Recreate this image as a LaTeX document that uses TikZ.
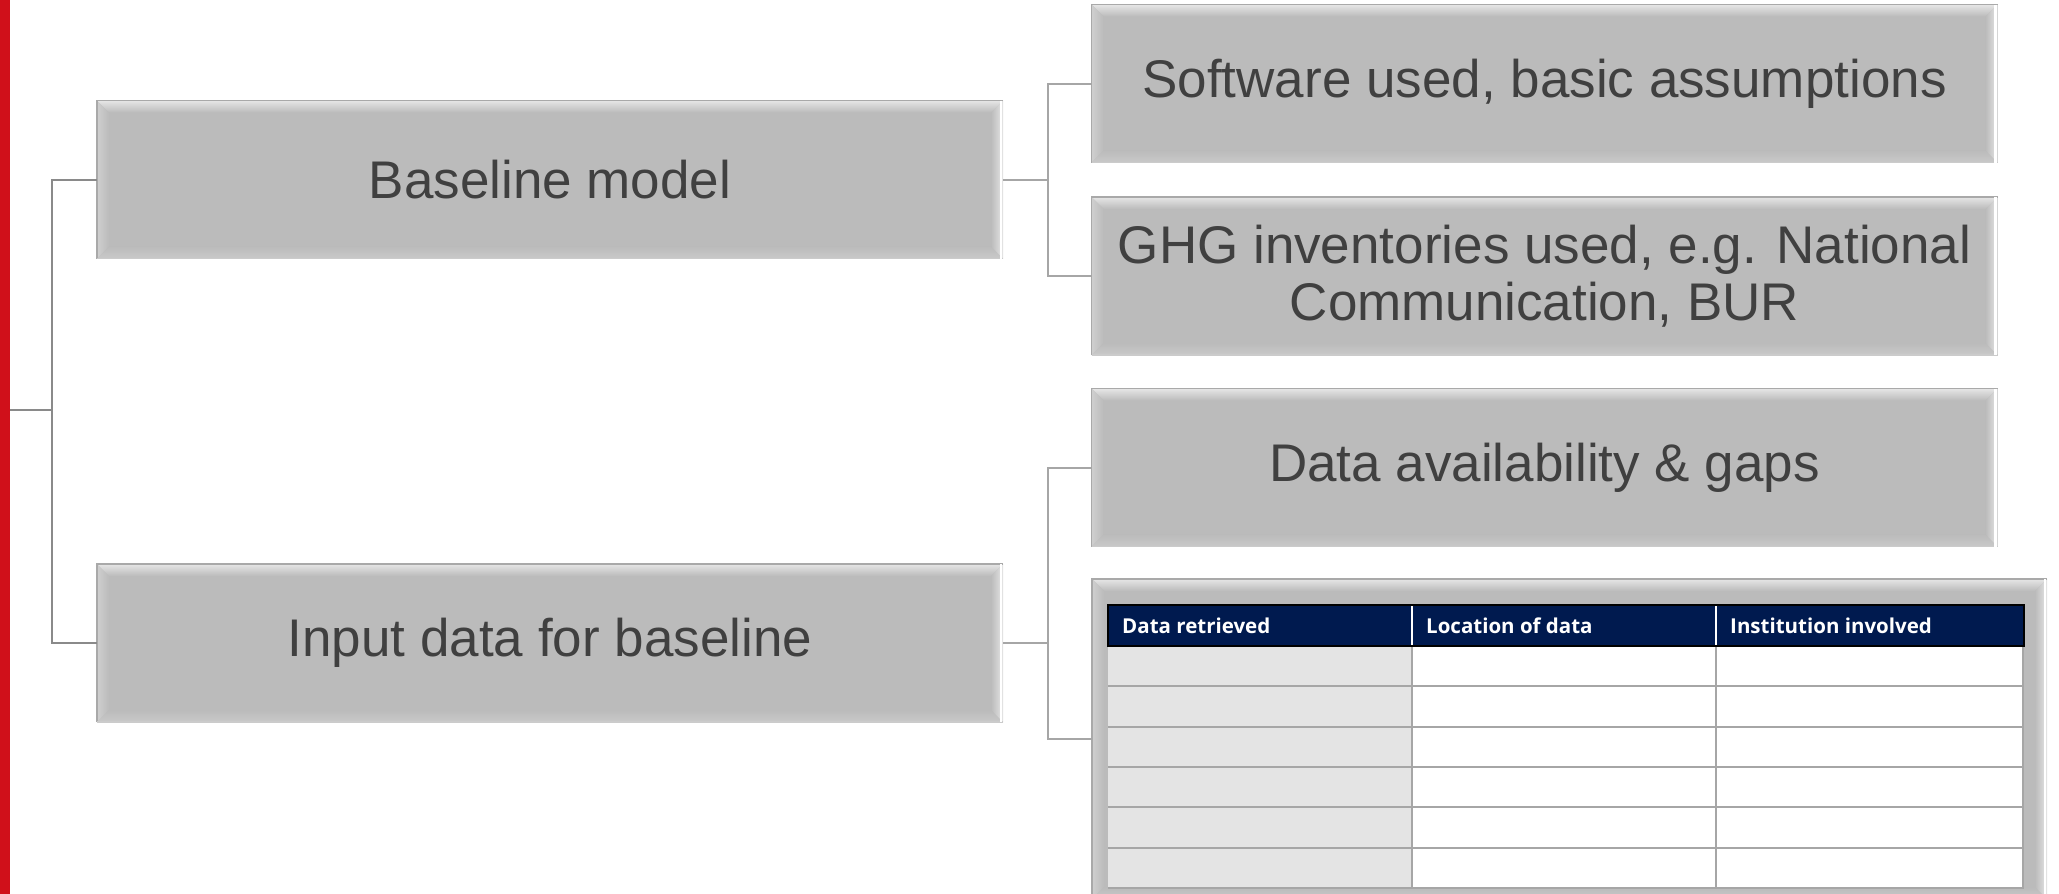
\documentclass[tikz,border=0pt]{standalone}
\usepackage{fontspec}
\setmainfont{Liberation Sans}
\newfontfamily\hdrfont{Open Sans}
\usetikzlibrary{calc}
\definecolor{boxgray}{HTML}{BBBBBB}
\definecolor{bvlight}{HTML}{E6E6E6}
\definecolor{bvleft}{HTML}{CFCFCF}
\definecolor{bvedge}{HTML}{A9A9A9}
\definecolor{txt}{HTML}{404040}
\definecolor{redbar}{HTML}{D0101A}
\definecolor{lineL}{HTML}{8A8A8A}
\definecolor{lineR}{HTML}{A6A6A6}
\definecolor{navy}{HTML}{001A4F}
\definecolor{cellgray}{HTML}{E4E4E4}
\definecolor{gridc}{HTML}{A6A6A6}
\newcommand{\bevelbox}[1]{%
  \shade[top color=bvlight, bottom color=boxgray]
    (#1.north west) -- (#1.north east) -- ([shift={(-12pt,-12pt)}]#1.north east)
    -- ([shift={(12pt,-12pt)}]#1.north west) -- cycle;
  \shade[left color=bvleft, right color=boxgray]
    (#1.north west) -- ([shift={(12pt,-12pt)}]#1.north west)
    -- ([shift={(12pt,12pt)}]#1.south west) -- (#1.south west) -- cycle;
  \shade[top color=boxgray, bottom color=bvleft!70!boxgray]
    (#1.south west) -- ([shift={(12pt,12pt)}]#1.south west)
    -- ([shift={(-12pt,12pt)}]#1.south east) -- (#1.south east) -- cycle;
  \shade[left color=boxgray, right color=bvlight]
    (#1.north east) -- ([shift={(-12pt,-12pt)}]#1.north east)
    -- ([shift={(-12pt,12pt)}]#1.south east) -- (#1.south east) -- cycle;
  \draw[bvedge, line width=1.5pt] (#1.south west) -- (#1.north west) -- (#1.north east);
  \draw[bvedge!60, line width=1.5pt] (#1.south west) -- (#1.south east);
  \draw[white, line width=2.5pt] ([xshift=-2pt]#1.north east) -- ([xshift=-2pt]#1.south east);
}
\begin{document}
\begin{tikzpicture}[x=1pt,y=-1pt,
  box/.style={fill=boxgray, inner sep=0pt, outer sep=0pt,
    minimum width=906pt, minimum height=158pt, text=txt,
    font=\fontsize{53}{57}\selectfont, align=center},
  connl/.style={draw=lineL, line width=2pt},
  connr/.style={draw=lineR, line width=2pt},
  hdr/.style={text=white, font=\hdrfont\bfseries\fontsize{20.5}{24}\selectfont,
    anchor=west, inner sep=0pt}]
\useasboundingbox (0,0) rectangle (2059,894);
\fill[white] (0,0) rectangle (2059,894);
\fill[redbar] (0,0) rectangle (10,894);

% nodes
\node[box] (base) at (550,179.5) {Baseline model};
\node[box] (input) at (550,643) {Input data for baseline};
\node[box] (sw) at (1544.5,83.5) {Software used, basic assumptions};
\node[box] (ghg) at (1544.5,276) {GHG inventories used, e.g. National\\Communication, BUR};
\node[box] (avail) at (1544.5,467.5) {Data availability \& gaps};
\node[box, minimum width=955pt, minimum height=320pt] (tbl) at (1569.5,739) {};
\foreach \n in {base,input,sw,ghg,avail,tbl} {\bevelbox{\n}}

% connectors
\coordinate (root) at (10,410);
\coordinate (lj) at (52,410);
\draw[connl] (root) -- (lj);
\draw[connl] (base.west) -| (lj) |- (input.west);
\coordinate (rj1) at (1048,179.5);
\draw[connr] (base.east) -- (rj1);
\draw[connr] (sw.west) -| (rj1) |- (ghg.west);
\coordinate (rj2) at (1048,643);
\draw[connr] (input.east) -- (rj2);
\draw[connr] (avail.west) -| (rj2) |- (tbl.west);

% table
\fill[white] (1108,646) rectangle (2024,888);
\fill[cellgray] (1108,646) rectangle (1412,888);
\foreach \i in {1,...,6} {
  \draw[gridc, line width=2pt] (1108,{646+40.33*\i}) -- (2024,{646+40.33*\i});
}
\draw[gridc, line width=2pt] (1412,646) -- (1412,888);
\draw[gridc, line width=2pt] (1716,646) -- (1716,888);
\draw[gridc, line width=2pt] (2023,646) -- (2023,888);
\fill[navy] (1108,605) rectangle (2024,646);
\draw[black, line width=1.2pt] (1108,605) rectangle (2024,646);
\draw[white, line width=2pt] (1412,606) -- (1412,645);
\draw[white, line width=2pt] (1716,606) -- (1716,645);
\node[hdr] (h1) at (1122,626) {Data retrieved};
\node[hdr] (h2) at (1426,626) {Location of data};
\node[hdr] (h3) at (1730,626) {Institution involved};
\end{tikzpicture}
\end{document}
